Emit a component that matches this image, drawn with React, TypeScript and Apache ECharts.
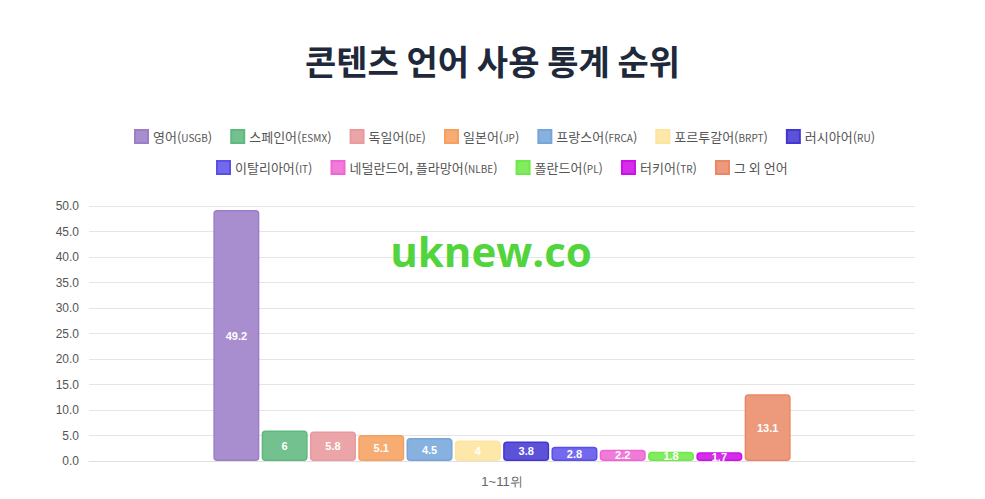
import { useEffect, useRef } from 'react';
import * as echarts from 'echarts';

const categories = ['1~11위'];

const languageNames = [
  '영어(USGB)',
  '스페인어(ESMX)',
  '독일어(DE)',
  '일본어(JP)',
  '프랑스어(FRCA)',
  '포르투갈어(BRPT)',
  '러시아어(RU)',
  '이탈리아어(IT)',
  '네덜란드어, 플라망어(NLBE)',
  '폴란드어(PL)',
  '터키어(TR)',
  '그 외 언어',
];

const shareValues = [49.2, 6, 5.8, 5.1, 4.5, 4, 3.8, 2.8, 2.2, 1.8, 1.7, 13.1];

const fillColors = [
  '#a88ecf', '#72c18f', '#eba5a8', '#f6ac72', '#87b1df', '#fde8aa',
  '#5c52d8', '#7269ee', '#f07bd9', '#82ec5f', '#d52de9', '#ed9a7c',
];

const borderColors = [
  '#9a7fc7', '#5fb97e', '#e89a9e', '#f5a05f', '#76a5d9', '#fde49f',
  '#4436d2', '#5a4fe6', '#ef66d3', '#70e84a', '#cc11e6', '#ea8866',
];

const yTicks = { min: 0, max: 50, interval: 5 };

const legendFormatter = (name: string) => {
  const m = name.match(/^(.*)\((.*)\)$/);
  if (!m) return `{a|${name}}`;
  return `{a|${m[1]}(}{b|${m[2]}}{a|)}`;
};

const legendStyle = {
  padding: 0,
  icon: 'rect',
  itemWidth: 13,
  itemHeight: 13,
  itemGap: 18,
  formatter: legendFormatter,
  textStyle: {
    color: '#555',
    fontFamily: 'Noto Sans CJK KR',
    rich: {
      a: { fontSize: 13, color: '#555', fontFamily: 'Noto Sans CJK KR' },
      b: { fontSize: 10, color: '#555', fontFamily: 'Noto Sans CJK KR', padding: [2, 0, 0, 0] },
    },
  },
};

export default function App() {
  const chartRef = useRef<HTMLDivElement>(null);

  useEffect(() => {
    if (!chartRef.current) return;
    const chart = echarts.init(chartRef.current, undefined, { renderer: 'svg' });

    const option: echarts.EChartsOption = {
      animation: false,
      backgroundColor: '#fff',
      title: {
        text: '콘텐츠 언어 사용 통계 순위',
        left: 'center',
        top: 38,
        textStyle: {
          fontSize: 34,
          fontWeight: 'bold',
          color: '#1e293b',
          fontFamily: 'Noto Sans CJK KR',
        },
      },
      legend: [
        { ...legendStyle, left: 134, top: 129, data: languageNames.slice(0, 7) },
        { ...legendStyle, left: 216, top: 160, data: languageNames.slice(7) },
      ],
      grid: { left: 89, right: 70, top: 206, bottom: 38 },
      xAxis: {
        type: 'category',
        data: categories,
        axisLine: { lineStyle: { color: '#e0e0e0' } },
        axisTick: { alignWithLabel: true, length: 6, lineStyle: { color: '#e0e0e0' } },
        axisLabel: { color: '#666', fontSize: 13, margin: 14, fontFamily: 'Liberation Sans' },
      },
      yAxis: {
        type: 'value',
        min: yTicks.min,
        max: yTicks.max,
        interval: yTicks.interval,
        axisLine: { show: false },
        axisTick: { show: false },
        axisLabel: {
          color: '#555',
          fontSize: 12,
          margin: 10,
          fontFamily: 'Liberation Sans',
          formatter: (v: number) => v.toFixed(1),
        },
        splitLine: { lineStyle: { color: '#e5e5e5' } },
      },
      graphic: [
        {
          type: 'text',
          x: 491,
          y: 250,
          z: 100,
          style: {
            text: 'uknew.co',
            fill: '#52d43c',
            font: 'bold 42px "Open Sans"',
            align: 'center',
            verticalAlign: 'middle',
          },
        },
      ],
      series: languageNames.map((name, i) => ({
        name,
        type: 'bar',
        data: [shareValues[i]],
        barWidth: 46,
        barGap: '5%',
        itemStyle: {
          color: fillColors[i],
          borderColor: borderColors[i],
          borderWidth: 1.5,
          borderRadius: 3,
        },
        label: {
          show: true,
          position: 'inside',
          color: '#fff',
          fontSize: 11,
          fontWeight: 'bold',
          fontFamily: 'Liberation Sans',
        },
      })),
    };

    chart.setOption(option);
    return () => chart.dispose();
  }, []);

  return (
    <div
      ref={chartRef}
      style={{ position: 'absolute', left: 0, top: 0, width: 985, height: 499 }}
    />
  );
}
